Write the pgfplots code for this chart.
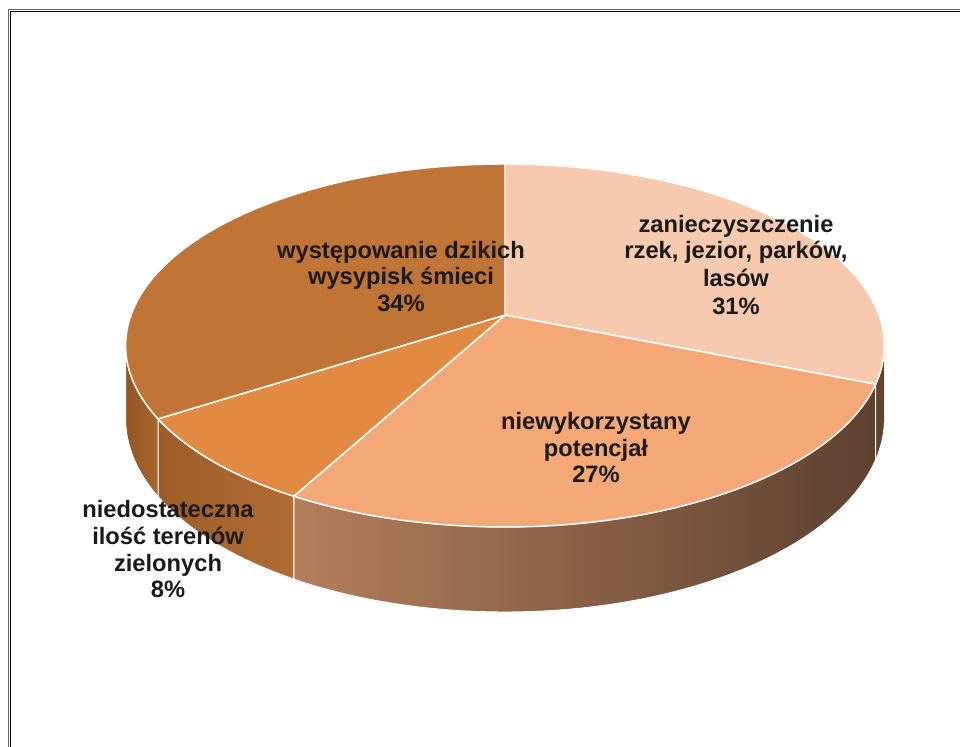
\documentclass[border=0pt]{standalone}
\usepackage{pgfplots}
\pgfplotsset{compat=1.18}
\usepackage{pgfplotstable}
\usepackage{fontspec}
\setmainfont{Liberation Sans}
\definecolor{cA}{HTML}{F7C9AE}
\definecolor{cB}{HTML}{F4A877}
\definecolor{cC}{HTML}{E38A42}
\definecolor{cD}{HTML}{C07536}
\definecolor{sA}{HTML}{5F4434}
\definecolor{sBl}{HTML}{B47E5C}
\definecolor{sBr}{HTML}{5D4130}
\definecolor{sCl}{HTML}{9D5C28}
\definecolor{sCr}{HTML}{B16C33}
\definecolor{sDl}{HTML}{925722}
\definecolor{sDr}{HTML}{A9662E}
\definecolor{txt}{HTML}{1A1A1A}

% shares of the four slices (percent), clockwise from 12 o'clock
\pgfplotstableread{
slice value
1 31
2 27
3 8
4 34
}\pietable
\pgfplotstablegetelem{0}{value}\of\pietable \let\vA\pgfplotsretval
\pgfplotstablegetelem{1}{value}\of\pietable \let\vB\pgfplotsretval
\pgfplotstablegetelem{2}{value}\of\pietable \let\vC\pgfplotsretval
\pgfplotstablegetelem{3}{value}\of\pietable \let\vD\pgfplotsretval
\pgfmathsetmacro\aA{3.6*\vA}
\pgfmathsetmacro\aB{\aA+3.6*\vB}
\pgfmathsetmacro\aC{\aB+3.6*\vC}
\pgfmathsetmacro\aD{\aC+3.6*\vD}
% visible part of the side wall
\def\visL{99.7}
\def\visR{260.3}

\newcommand\lab[3]{\node[anchor=base,inner sep=0pt,text=txt,font=\fontsize{11.85}{14}\selectfont\bfseries] at (axis cs:#1,#2) {#3};}

\begin{document}
\begin{tikzpicture}[
  declare function={
    pw(\t)=1+0.168*cos(\t);
    px(\t)=505+374*sin(\t)/pw(\t);
    py(\t)=315-176.4*cos(\t)/pw(\t);
    pd(\t)=70.7/pw(\t);
  }]
\begin{axis}[
  width=480pt, height=373.5pt, scale only axis,
  xmin=0, xmax=960, ymin=0, ymax=747, y dir=reverse,
  hide axis, clip=false]
% ---- side walls ----
\addplot[draw=white, line width=0.3pt, fill=sA, domain=0:2.02, samples=102]
  ({px(\visL+(\aA-\visL)*min(x,1,2.02-x))},
   {py(\visL+(\aA-\visL)*min(x,1,2.02-x))+(x>1.01)*pd(\visL+(\aA-\visL)*min(x,1,2.02-x))}) -- cycle;
\addplot[draw=white, line width=0.4pt, left color=sBl, right color=sBr, domain=0:2.02, samples=102]
  ({px(\aA+(\aB-\aA)*min(x,1,2.02-x))},
   {py(\aA+(\aB-\aA)*min(x,1,2.02-x))+(x>1.01)*pd(\aA+(\aB-\aA)*min(x,1,2.02-x))}) -- cycle;
\addplot[draw=white, line width=0.6pt, left color=sCl, right color=sCr, domain=0:2.02, samples=102]
  ({px(\aB+(\aC-\aB)*min(x,1,2.02-x))},
   {py(\aB+(\aC-\aB)*min(x,1,2.02-x))+(x>1.01)*pd(\aB+(\aC-\aB)*min(x,1,2.02-x))}) -- cycle;
\addplot[draw=white, line width=0.4pt, left color=sDl, right color=sDr, domain=0:2.02, samples=102]
  ({px(\aC+(\visR-\aC)*min(x,1,2.02-x))},
   {py(\aC+(\visR-\aC)*min(x,1,2.02-x))+(x>1.01)*pd(\aC+(\visR-\aC)*min(x,1,2.02-x))}) -- cycle;
% ---- top faces ----
\addplot[fill=cA, draw=white, line width=0.75pt, domain=0:\aA, samples=90]
  ({px(x)},{py(x)}) -- (axis cs:505,315) -- cycle;
\addplot[fill=cB, draw=white, line width=0.75pt, domain=\aA:\aB, samples=90]
  ({px(x)},{py(x)}) -- (axis cs:505,315) -- cycle;
\addplot[fill=cC, draw=white, line width=0.75pt, domain=\aB:\aC, samples=40]
  ({px(x)},{py(x)}) -- (axis cs:505,315) -- cycle;
\addplot[fill=cD, draw=white, line width=0.75pt, domain=\aC:\aD, samples=90]
  ({px(x)},{py(x)}) -- (axis cs:505,315) -- cycle;
% ---- labels ----
\lab{401}{259}{występowanie dzikich}
\lab{401}{285}{wysypisk śmieci}
\lab{401}{312}{34\%}
\lab{736}{233}{zanieczyszczenie}
\lab{736}{259}{rzek, jezior, parków,}
\lab{736}{287}{lasów}
\lab{736}{315}{31\%}
\lab{596}{430}{niewykorzystany}
\lab{596}{457}{potencjał}
\lab{596}{483}{27\%}
\lab{168}{518}{niedostateczna}
\lab{168}{545}{ilość terenów}
\lab{168}{572}{zielonych}
\lab{168}{598}{8\%}
% ---- frame ----
\draw[black!60, line width=0.6pt] (axis cs:8.3,747) -- (axis cs:8.3,9.3) -- (axis cs:960,9.3);
\draw[black, line width=0.6pt] (axis cs:10.8,747) -- (axis cs:10.8,11.8) -- (axis cs:960,11.8);
\end{axis}
\pgfresetboundingbox
\path (current axis.south west) rectangle (current axis.north east);
\end{tikzpicture}
\end{document}
